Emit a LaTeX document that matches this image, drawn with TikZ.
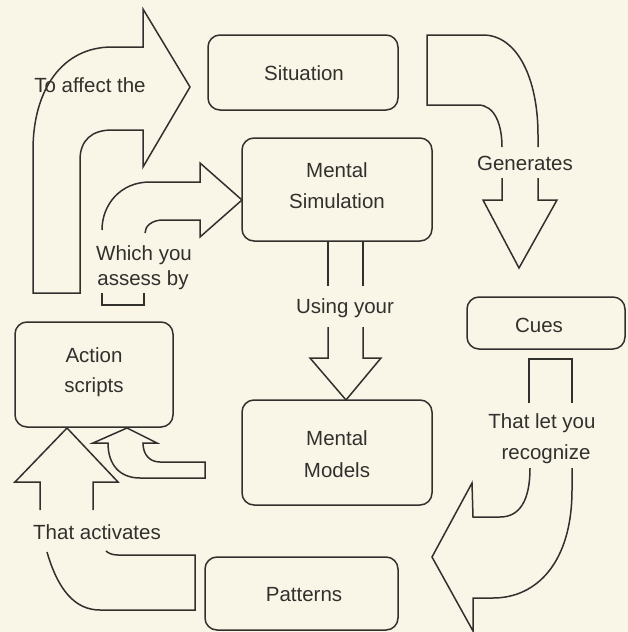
\documentclass[tikz,border=0pt]{standalone}
\usepackage{fontspec}
\setmainfont{Liberation Sans}
\definecolor{paper}{RGB}{249,246,232}
\definecolor{inkc}{RGB}{50,48,45}
\begin{document}
\begin{tikzpicture}[x=1pt,y=-1pt,
  ink/.style={draw=inkc, line width=1.5pt},
  box/.style={ink, rectangle, rounded corners=12pt, inner sep=0pt},
  lbl/.style={text=inkc, inner sep=0pt, anchor=base, font=\fontsize{20.5}{24}\selectfont},
]
\fill[paper] (0,0) rectangle (628,632);
\useasboundingbox (0,0) rectangle (628,632);

% boxes
\node[box, minimum width=190pt, minimum height=75pt]  (sit)    at (303,72.5)   {};
\node[box, minimum width=190pt, minimum height=103pt] (sim)    at (337,189.5)  {};
\node[box, minimum width=158pt, minimum height=52pt]  (cues)   at (546,323)    {};
\node[box, minimum width=190pt, minimum height=105pt] (models) at (337,452.5)  {};
\node[box, minimum width=158pt, minimum height=105pt] (action) at (94,374.5)   {};
\node[box, minimum width=193pt, minimum height=73pt]  (pat)    at (301.5,593.5){};

% box texts
\node[lbl] (sitT)  at (304,80)  {Situation};
\node[lbl] (simT1) at (337,177) {Mental};
\node[lbl] (simT2) at (337,208) {Simulation};
\node[lbl] (cuesT) at (539,332) {Cues};
\node[lbl] (modT1) at (337,445) {Mental};
\node[lbl] (modT2) at (337,477) {Models};
\node[lbl] (actT1) at (94,362)  {Action};
\node[lbl] (actT2) at (94,392)  {scripts};
\node[lbl] (patT)  at (304,601) {Patterns};

% arrow labels
\node[lbl] (affT)  at (90,92)   {To affect the};
\node[lbl] (assT1) at (144,260) {Which you};
\node[lbl] (assT2) at (143,285) {assess by};
\node[lbl] (genT)  at (525,170) {Generates};
\node[lbl] (useT)  at (345,313) {Using your};
\node[lbl] (recT1) at (542,428) {That let you};
\node[lbl] (recT2) at (546,459) {recognize};
\node[lbl] (actvT) at (97,539)  {That activates};

% action scripts -> situation
\draw[ink] (33,293) -- (80,293) -- (80,160) .. controls (80,140) and (92,130) .. (112,130)
  -- (143,130) -- (143,167) -- (190,87) -- (143,9) -- (143,47) -- (112,47)
  .. controls (62,47) and (33,90) .. (33,150) -- cycle;

% action scripts -> mental simulation
\draw[ink] (102,230) .. controls (102,205) and (120,182) .. (150,182) -- (200,182)
  -- (200,163) -- (242,200) -- (200,237) -- (200,220) -- (163,220)
  .. controls (152,220) and (145,226) .. (145,233);
\draw[ink] (102,293) -- (102,305) -- (144,305) -- (144,293);

% situation -> cues
\draw[ink] (502,147) .. controls (502,125) and (495,105) .. (478,105) -- (427,105)
  -- (427,35) -- (483,35) .. controls (517,35) and (538,78) .. (538,135) -- (538,147);
\draw[ink] (502,178) -- (502,200) -- (483,200) -- (519,268) -- (557,200) -- (538,200) -- (538,178);

% mental simulation -> mental models
\draw[ink] (328,241) -- (328,286);
\draw[ink] (363,241) -- (363,286);
\draw[ink] (328,327) -- (328,358) -- (310,358) -- (346,400) -- (381,358) -- (363,358) -- (363,327);

% cues -> patterns
\draw[ink] (529,403) -- (529,359) -- (572,359) -- (572,403);
\draw[ink] (530,468) .. controls (530,500) and (520,517) .. (500,517) -- (473,517)
  -- (472,483) -- (432,557) -- (473,631) -- (473,598) -- (493,598)
  .. controls (537,598) and (572,562) .. (572,490) -- (572,468);

% patterns -> action scripts
\draw[ink] (40,510) -- (40,482) -- (15,482) -- (67,428) -- (118,482) -- (93,482) -- (93,510);
\draw[ink] (47,552) .. controls (58,590) and (75,610) .. (100,610) -- (195,610) -- (195,555)
  -- (118,555) .. controls (112,555) and (108,553) .. (106,551);

% mental models -> action scripts
\draw[ink] (205,462) -- (160,462) .. controls (150,462) and (143,455) .. (143,443)
  -- (157,443) -- (127,428) -- (93,443) -- (108,443)
  .. controls (108,465) and (120,478) .. (140,478) -- (205,478) -- cycle;
\end{tikzpicture}
\end{document}
